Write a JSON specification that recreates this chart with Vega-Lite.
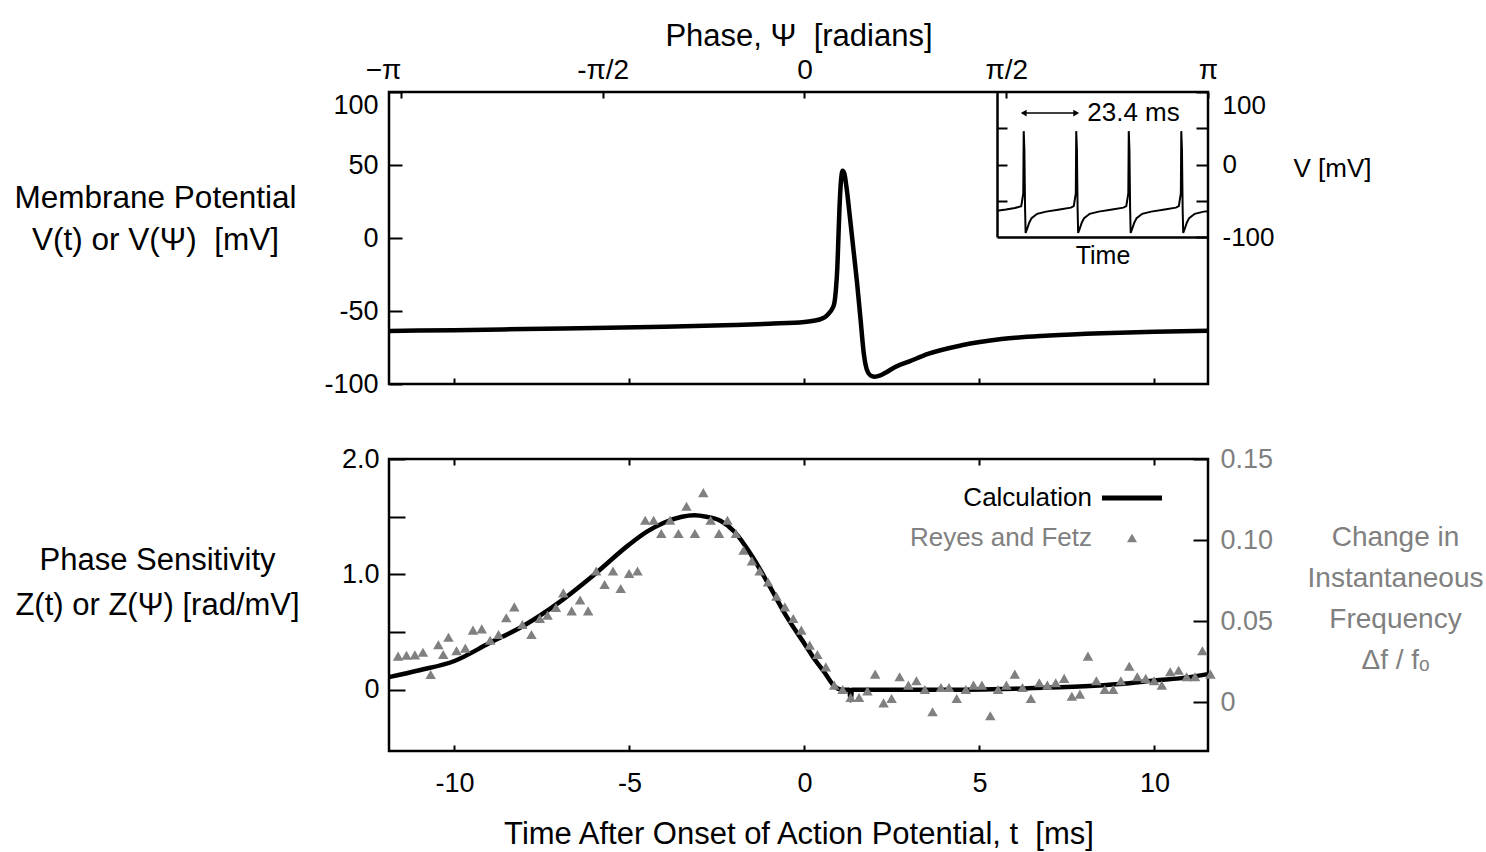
{
  "$schema": "https://vega.github.io/schema/vega-lite/v6.json",
  "background": "white",
  "padding": {"left": 12, "top": 18, "right": 0, "bottom": 0},
  "bounds": "flush",
  "spacing": 75,
  "config": {
    "font": "Liberation Sans",
    "view": {"stroke": "black", "strokeWidth": 2.5},
    "axis": {"grid": false, "domain": false, "tickColor": "black", "tickWidth": 2, "labelColor": "black", "labelFontSize": 27, "labelFont": "Liberation Sans", "titleFont": "Liberation Sans", "titleFontSize": 31, "titleFontWeight": "normal", "titleColor": "black", "labelFlush": false, "labelOverlap": false},
    "text": {"font": "Liberation Sans"}
  },
  "datasets": {
    "vcurve": [
      {"t": -11.87, "V": -63.7}, {"t": -10, "V": -63.1}, {"t": -8, "V": -62.4}, {"t": -6, "V": -61.6}, {"t": -4, "V": -60.8},
      {"t": -2, "V": -59.6}, {"t": -1, "V": -58.7}, {"t": 0, "V": -57.5}, {"t": 0.3, "V": -56.5}, {"t": 0.5, "V": -55.2},
      {"t": 0.6, "V": -53.9}, {"t": 0.7, "V": -51.5}, {"t": 0.78, "V": -49}, {"t": 0.85, "V": -45}, {"t": 0.9, "V": -35},
      {"t": 0.94, "V": -20}, {"t": 0.97, "V": 0}, {"t": 1.0, "V": 20}, {"t": 1.04, "V": 38}, {"t": 1.09, "V": 46},
      {"t": 1.14, "V": 44}, {"t": 1.2, "V": 35}, {"t": 1.3, "V": 14}, {"t": 1.4, "V": -8}, {"t": 1.5, "V": -30},
      {"t": 1.6, "V": -55}, {"t": 1.7, "V": -80}, {"t": 1.78, "V": -90}, {"t": 1.88, "V": -94}, {"t": 2.0, "V": -95},
      {"t": 2.15, "V": -94.3}, {"t": 2.3, "V": -92.5}, {"t": 2.58, "V": -88.5}, {"t": 3, "V": -84.5}, {"t": 3.53, "V": -79.4},
      {"t": 4.49, "V": -73.5}, {"t": 5.63, "V": -69.2}, {"t": 7, "V": -66.8}, {"t": 8.5, "V": -65.2}, {"t": 10, "V": -64.2},
      {"t": 11.53, "V": -63.5}
    ],
    "inset": [
      {"ti": 0, "Vi": -63.7}, {"ti": 4, "Vi": -62}, {"ti": 8, "Vi": -60}, {"ti": 10.8, "Vi": -57.5}, {"ti": 11.7, "Vi": -40},
      {"ti": 11.9, "Vi": 46}, {"ti": 12.2, "Vi": 20}, {"ti": 12.5, "Vi": -60}, {"ti": 12.75, "Vi": -94.5}, {"ti": 13.4, "Vi": -89},
      {"ti": 14.4, "Vi": -80}, {"ti": 15.4, "Vi": -74}, {"ti": 17.9, "Vi": -68}, {"ti": 21.9, "Vi": -65}, {"ti": 27.9, "Vi": -62},
      {"ti": 32.9, "Vi": -59.5}, {"ti": 34.2, "Vi": -57.5}, {"ti": 35.1, "Vi": -40}, {"ti": 35.3, "Vi": 46}, {"ti": 35.6, "Vi": 20},
      {"ti": 35.9, "Vi": -60}, {"ti": 36.15, "Vi": -94.5}, {"ti": 36.8, "Vi": -89}, {"ti": 37.8, "Vi": -80}, {"ti": 38.8, "Vi": -74},
      {"ti": 41.3, "Vi": -68}, {"ti": 45.3, "Vi": -65}, {"ti": 51.3, "Vi": -62}, {"ti": 56.3, "Vi": -59.5}, {"ti": 57.6, "Vi": -57.5},
      {"ti": 58.5, "Vi": -40}, {"ti": 58.7, "Vi": 46}, {"ti": 59.0, "Vi": 20}, {"ti": 59.3, "Vi": -60}, {"ti": 59.55, "Vi": -94.5},
      {"ti": 60.2, "Vi": -89}, {"ti": 61.2, "Vi": -80}, {"ti": 62.2, "Vi": -74}, {"ti": 64.7, "Vi": -68}, {"ti": 68.7, "Vi": -65},
      {"ti": 74.7, "Vi": -62}, {"ti": 79.7, "Vi": -59.5}, {"ti": 81.0, "Vi": -57.5}, {"ti": 81.9, "Vi": -40}, {"ti": 82.1, "Vi": 46},
      {"ti": 82.4, "Vi": 20}, {"ti": 82.7, "Vi": -60}, {"ti": 82.95, "Vi": -94.5}, {"ti": 83.6, "Vi": -89}, {"ti": 84.6, "Vi": -80},
      {"ti": 85.6, "Vi": -74}, {"ti": 88.1, "Vi": -68}, {"ti": 92.1, "Vi": -65}, {"ti": 94, "Vi": -64.5}
    ],
    "arrow": [{"ti": 11.9, "Vi": 71, "dir": "left"}, {"ti": 35.3, "Vi": 71, "dir": "right"}],
    "note": [{"ti": 35.3, "Vi": 71, "label": "23.4 ms"}],
    "phase": [{"phase": -3.14159}, {"phase": -1.5708}, {"phase": 0}, {"phase": 1.5708}, {"phase": 3.14159}],
    "zcalc": [
      {"t": -11.87, "Z": 0.11}, {"t": -11, "Z": 0.17}, {"t": -10, "Z": 0.25}, {"t": -9, "Z": 0.405}, {"t": -8, "Z": 0.56},
      {"t": -7, "Z": 0.76}, {"t": -6, "Z": 1.0}, {"t": -5, "Z": 1.26}, {"t": -4.5, "Z": 1.37}, {"t": -4, "Z": 1.45},
      {"t": -3.5, "Z": 1.5}, {"t": -3.15, "Z": 1.513}, {"t": -2.8, "Z": 1.5}, {"t": -2.4, "Z": 1.465}, {"t": -2, "Z": 1.37},
      {"t": -1.5, "Z": 1.16}, {"t": -1, "Z": 0.9}, {"t": -0.5, "Z": 0.63}, {"t": 0, "Z": 0.4}, {"t": 0.3, "Z": 0.26},
      {"t": 0.6, "Z": 0.14}, {"t": 0.8, "Z": 0.05}, {"t": 0.95, "Z": 0.01}, {"t": 1.1, "Z": 0.0},
      {"t": 1.28, "Z": 0.0}, {"t": 1.32, "Z": -0.09}, {"t": 1.36, "Z": 0.0}, {"t": 2, "Z": 0.0}, {"t": 4, "Z": 0.0},
      {"t": 6, "Z": 0.01}, {"t": 8, "Z": 0.03}, {"t": 9, "Z": 0.05}, {"t": 10, "Z": 0.08}, {"t": 11, "Z": 0.11},
      {"t": 11.53, "Z": 0.136}
    ],
    "rf": [
      {"t": -11.61, "Z": 0.292}, {"t": -11.37, "Z": 0.3}, {"t": -11.13, "Z": 0.303}, {"t": -10.9, "Z": 0.326}, {"t": -10.68, "Z": 0.133},
      {"t": -10.46, "Z": 0.39}, {"t": -10.32, "Z": 0.306}, {"t": -10.17, "Z": 0.456}, {"t": -9.94, "Z": 0.338}, {"t": -9.69, "Z": 0.361},
      {"t": -9.47, "Z": 0.517}, {"t": -9.22, "Z": 0.528}, {"t": -8.98, "Z": 0.43}, {"t": -8.74, "Z": 0.48}, {"t": -8.52, "Z": 0.624},
      {"t": -8.29, "Z": 0.719}, {"t": -8.06, "Z": 0.566}, {"t": -7.8, "Z": 0.48}, {"t": -7.56, "Z": 0.618}, {"t": -7.34, "Z": 0.647},
      {"t": -7.1, "Z": 0.713}, {"t": -6.89, "Z": 0.84}, {"t": -6.65, "Z": 0.684}, {"t": -6.41, "Z": 0.779}, {"t": -6.18, "Z": 0.684},
      {"t": -5.95, "Z": 1.03}, {"t": -5.71, "Z": 0.912}, {"t": -5.47, "Z": 1.03}, {"t": -5.25, "Z": 0.878}, {"t": -5.01, "Z": 1.008},
      {"t": -4.77, "Z": 1.03}, {"t": -4.55, "Z": 1.469}, {"t": -4.31, "Z": 1.469}, {"t": -4.09, "Z": 1.354}, {"t": -3.84, "Z": 1.469},
      {"t": -3.6, "Z": 1.354}, {"t": -3.37, "Z": 1.59}, {"t": -3.13, "Z": 1.354}, {"t": -2.89, "Z": 1.709}, {"t": -2.68, "Z": 1.469},
      {"t": -2.44, "Z": 1.354}, {"t": -2.2, "Z": 1.469}, {"t": -1.96, "Z": 1.354}, {"t": -1.74, "Z": 1.21}, {"t": -1.5, "Z": 1.117},
      {"t": -1.28, "Z": 1.03}, {"t": -1.04, "Z": 0.935}, {"t": -0.8, "Z": 0.811}, {"t": -0.56, "Z": 0.719}, {"t": -0.32, "Z": 0.618},
      {"t": -0.09, "Z": 0.517}, {"t": 0.15, "Z": 0.387}, {"t": 0.37, "Z": 0.306}, {"t": 0.61, "Z": 0.199}, {"t": 0.85, "Z": 0.041},
      {"t": 1.09, "Z": 0.003}, {"t": 1.32, "Z": -0.066}, {"t": 1.56, "Z": -0.066}, {"t": 1.8, "Z": -0.009}, {"t": 2.02, "Z": 0.136},
      {"t": 2.26, "Z": -0.113}, {"t": 2.49, "Z": -0.075}, {"t": 2.72, "Z": 0.113}, {"t": 2.97, "Z": 0.041}, {"t": 3.2, "Z": 0.078},
      {"t": 3.44, "Z": 0.003}, {"t": 3.66, "Z": -0.19}, {"t": 3.9, "Z": 0.02}, {"t": 4.13, "Z": 0.02}, {"t": 4.35, "Z": -0.075},
      {"t": 4.61, "Z": 0.003}, {"t": 4.83, "Z": 0.041}, {"t": 5.07, "Z": 0.041}, {"t": 5.31, "Z": -0.225}, {"t": 5.53, "Z": 0.003},
      {"t": 5.77, "Z": 0.041}, {"t": 6.01, "Z": 0.136}, {"t": 6.23, "Z": 0.02}, {"t": 6.47, "Z": -0.075}, {"t": 6.71, "Z": 0.061},
      {"t": 6.94, "Z": 0.041}, {"t": 7.18, "Z": 0.061}, {"t": 7.42, "Z": 0.099}, {"t": 7.64, "Z": -0.055}, {"t": 7.87, "Z": -0.037},
      {"t": 8.1, "Z": 0.292}, {"t": 8.34, "Z": 0.078}, {"t": 8.58, "Z": 0.003}, {"t": 8.82, "Z": 0.003}, {"t": 9.04, "Z": 0.078},
      {"t": 9.28, "Z": 0.205}, {"t": 9.51, "Z": 0.113}, {"t": 9.75, "Z": 0.099}, {"t": 9.99, "Z": 0.078}, {"t": 10.21, "Z": 0.041},
      {"t": 10.45, "Z": 0.156}, {"t": 10.69, "Z": 0.17}, {"t": 10.92, "Z": 0.113}, {"t": 11.16, "Z": 0.113}, {"t": 11.37, "Z": 0.338},
      {"t": 11.6, "Z": 0.136}
    ],
    "rightaxis": [{"t": -10, "df": 0}, {"t": 10, "df": 0.15}]
  },
  "vconcat": [
    {
      "width": 819,
      "height": 292,
      "layer": [
        {
          "data": {"name": "vcurve"},
          "mark": {"type": "line", "stroke": "black", "strokeWidth": 4.5, "interpolate": "monotone"},
          "encoding": {
            "x": {"field": "t", "type": "quantitative", "scale": {"domain": [-11.87, 11.53], "nice": false, "zero": false},
              "axis": {"orient": "bottom", "values": [-10, -5, 0, 5, 10], "labels": false, "tickSize": -6, "title": null}},
            "y": {"field": "V", "type": "quantitative", "scale": {"domain": [-100, 100], "nice": false, "zero": false},
              "axis": {"orient": "left", "values": [-100, -50, 0, 50, 100], "tickSize": -13, "labelPadding": 24,
                "labelBaseline": {"condition": {"test": "datum.value == 100", "value": "top"}, "value": "middle"},
                "labelExpr": "datum.value < 0 ? '-' + abs(datum.value) : '' + datum.value",
                "title": ["Membrane Potential", "V(t) or V(Ψ) \u00a0[mV]"], "titleFontSize": 31.5, "titleAngle": 0, "titleAlign": "center", "titleBaseline": "middle",
                "titleX": -234, "titleY": 106, "titleLineHeight": 42}}
          }
        },
        {
          "data": {"name": "phase"},
          "mark": {"type": "point", "opacity": 0},
          "encoding": {
            "x": {"field": "phase", "type": "quantitative", "scale": {"domain": [-3.2342, 3.14159], "nice": false, "zero": false},
              "axis": {"orient": "top", "values": [-3.14159, -1.5708, 0, 1.5708, 3.14159], "tickSize": -6, "labelFontSize": 28, "labelPadding": 14,
                "labelExpr": "datum.value < -3 ? '−π' : datum.value < -1 ? '-π/2' : datum.value > 3 ? 'π' : datum.value > 1 ? 'π/2' : '0'",
                "labelAlign": {"condition": {"test": "datum.value < -3", "value": "right"}, "value": "center"},
                "title": "Phase, Ψ \u00a0[radians]", "titlePadding": 4}}
          }
        },
        {
          "data": {"name": "inset"},
          "mark": {"type": "line", "stroke": "black", "strokeWidth": 2},
          "encoding": {
            "x": {"field": "ti", "type": "quantitative", "scale": {"domain": [0, 94], "range": [608, 819], "nice": false, "zero": false},
              "axis": {"orient": "bottom", "offset": -147, "domain": true, "domainColor": "black", "domainWidth": 2.5, "ticks": false, "labels": false,
                "title": "Time", "titleFontSize": 25, "titlePadding": 6}},
            "y": {"field": "Vi", "type": "quantitative", "scale": {"domain": [-100, 100], "range": [145, 0], "nice": false, "zero": false},
              "axis": {"orient": "right", "values": [-100, -50, 0, 50, 100], "tickSize": -12, "labelPadding": 26, "labelFontSize": 26,
                "labelBaseline": {"condition": {"test": "datum.value == 100", "value": "top"}, "value": "middle"},
                "labelExpr": "datum.value == 100 ? '100' : datum.value == 0 ? '0' : datum.value == -100 ? '-100' : ''",
                "title": "V [mV]", "titleFontSize": 26, "titleAngle": 0, "titleAlign": "center", "titleBaseline": "middle", "titleX": 124, "titleY": 76}}
          }
        },
        {
          "data": {"name": "inset"},
          "mark": {"type": "point", "opacity": 0},
          "encoding": {
            "y": {"field": "Vi", "type": "quantitative", "scale": {"domain": [-100, 100], "range": [145, 0], "nice": false, "zero": false},
              "axis": {"orient": "left", "offset": -608, "domain": true, "domainColor": "black", "domainWidth": 2.5, "values": [-50, 0, 50], "tickSize": -10, "labels": false, "title": null}}
          }
        },
        {
          "data": {"name": "arrow"},
          "mark": {"type": "line", "stroke": "black", "strokeWidth": 1.5},
          "encoding": {
            "x": {"field": "ti", "type": "quantitative", "scale": {"domain": [0, 94], "range": [608, 819], "nice": false, "zero": false}, "axis": null},
            "y": {"field": "Vi", "type": "quantitative", "scale": {"domain": [-100, 100], "range": [145, 0], "nice": false, "zero": false}, "axis": null}
          }
        },
        {
          "data": {"name": "arrow"},
          "mark": {"type": "point", "filled": true, "color": "black", "opacity": 1, "size": 45},
          "encoding": {
            "x": {"field": "ti", "type": "quantitative", "scale": {"domain": [0, 94], "range": [608, 819], "nice": false, "zero": false}, "axis": null},
            "y": {"field": "Vi", "type": "quantitative", "scale": {"domain": [-100, 100], "range": [145, 0], "nice": false, "zero": false}, "axis": null},
            "shape": {"field": "dir", "type": "nominal", "scale": {"domain": ["left", "right"], "range": ["triangle-left", "triangle-right"]}, "legend": null}
          }
        },
        {
          "data": {"name": "note"},
          "mark": {"type": "text", "align": "left", "baseline": "middle", "fontSize": 26, "dx": 11, "color": "black"},
          "encoding": {
            "x": {"field": "ti", "type": "quantitative", "scale": {"domain": [0, 94], "range": [608, 819], "nice": false, "zero": false}, "axis": null},
            "y": {"field": "Vi", "type": "quantitative", "scale": {"domain": [-100, 100], "range": [145, 0], "nice": false, "zero": false}, "axis": null},
            "text": {"field": "label"}
          }
        }
      ],
      "resolve": {"scale": {"x": "independent", "y": "independent"}, "axis": {"x": "independent", "y": "independent"}}
    },
    {
      "width": 819,
      "height": 292,
      "layer": [
        {
          "data": {"name": "zcalc"},
          "mark": {"type": "line", "strokeWidth": 4.5, "interpolate": "monotone"},
          "encoding": {
            "x": {"field": "t", "type": "quantitative", "scale": {"domain": [-11.87, 11.53], "nice": false, "zero": false},
              "axis": {"orient": "bottom", "values": [-10, -5, 0, 5, 10], "tickSize": -6, "labelPadding": 25,
                "labelExpr": "datum.value < 0 ? '-' + abs(datum.value) : '' + datum.value",
                "title": "Time After Onset of Action Potential, t \u00a0[ms]", "titlePadding": 23}},
            "y": {"field": "Z", "type": "quantitative", "scale": {"domain": [-0.53, 2.0], "nice": false, "zero": false},
              "axis": {"orient": "left", "values": [0, 0.5, 1, 1.5, 2], "tickSize": -16, "labelPadding": 26,
                "labelExpr": "datum.value == 0 ? '0' : (datum.value == 1 || datum.value == 2) ? format(datum.value, '.1f') : ''",
                "title": ["Phase Sensitivity", "Z(t) or Z(Ψ) [rad/mV]"], "titleAngle": 0, "titleAlign": "center", "titleBaseline": "middle",
                "titleX": -232, "titleY": 101, "titleLineHeight": 45}},
            "color": {"datum": "Calculation", "type": "nominal",
              "scale": {"domain": ["Calculation", "Reyes and Fetz"], "range": ["black", "#808080"]},
              "legend": {"orient": "none", "legendX": 743, "legendY": 393, "title": null, "padding": 0, "labelFontSize": 26, "labelFont": "Liberation Sans",
                "rowPadding": 14, "labelLimit": 0,
                "encode": {
                  "symbols": {"update": {
                    "x": {"value": 0},
                    "shape": {"signal": "datum.value === 'Calculation' ? 'stroke' : 'triangle-up'"},
                    "size": {"signal": "datum.value === 'Calculation' ? 3600 : 100"},
                    "stroke": {"signal": "datum.value === 'Calculation' ? 'black' : '#808080'"},
                    "fill": {"signal": "datum.value === 'Calculation' ? 'black' : '#808080'"},
                    "strokeWidth": {"signal": "datum.value === 'Calculation' ? 5 : 0"},
                    "opacity": {"value": 1}}},
                  "labels": {"update": {
                    "x": {"value": -40},
                    "align": {"value": "right"},
                    "fill": {"signal": "datum.value === 'Calculation' ? 'black' : '#808080'"}}}
                }}}
          }
        },
        {
          "data": {"name": "rf"},
          "mark": {"type": "point", "shape": "triangle-up", "filled": true, "opacity": 1, "size": 110},
          "encoding": {
            "x": {"field": "t", "type": "quantitative", "scale": {"domain": [-11.87, 11.53], "nice": false, "zero": false}, "axis": null},
            "y": {"field": "Z", "type": "quantitative", "scale": {"domain": [-0.53, 2.0], "nice": false, "zero": false}, "axis": null},
            "color": {"datum": "Reyes and Fetz", "type": "nominal"}
          }
        },
        {
          "data": {"name": "rightaxis"},
          "mark": {"type": "point", "opacity": 0},
          "encoding": {
            "x": {"field": "t", "type": "quantitative", "scale": {"domain": [-11.87, 11.53], "nice": false, "zero": false},
              "axis": {"orient": "top", "values": [-10, -5, 0, 5, 10], "tickSize": -6, "labels": false, "title": null}},
            "y": {"field": "df", "type": "quantitative", "scale": {"domain": [-0.0302, 0.15], "nice": false, "zero": false},
              "axis": {"orient": "right", "values": [0, 0.05, 0.1, 0.15], "tickSize": -15, "labelPadding": 27, "labelColor": "#808080",
                "labelExpr": "datum.value == 0 ? '0' : format(datum.value, '.2f')",
                "title": ["Change in", "Instantaneous", "Frequency", "Δf / fₒ"], "titleColor": "#808080", "titleFontSize": 28,
                "titleAngle": 0, "titleAlign": "center", "titleBaseline": "middle", "titleX": 187, "titleY": 78, "titleLineHeight": 41}}
          }
        }
      ],
      "resolve": {"scale": {"x": "independent", "y": "independent"}}
    }
  ]
}
